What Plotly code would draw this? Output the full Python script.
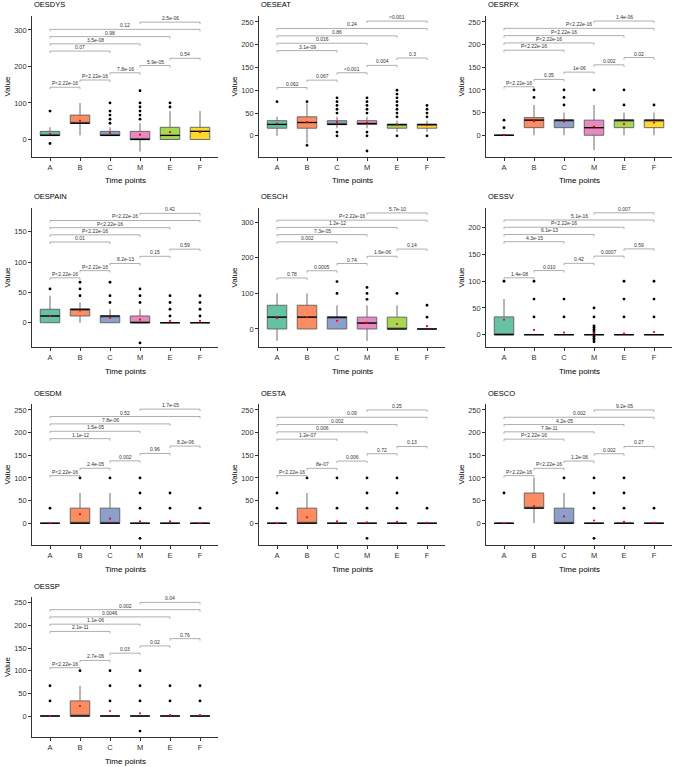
import plotly.graph_objects as go

CATS = ["A", "B", "C", "M", "E", "F"]
BOX_COLORS = ["#66C2A5", "#FC8D62", "#8DA0CB", "#E78AC3", "#A6D854", "#FFD92F"]
PAIRS = [("A", "B"), ("B", "C"), ("C", "M"), ("M", "E"), ("E", "F"),
         ("A", "C"), ("A", "M"), ("A", "E"), ("A", "F"), ("M", "F")]
PANELS = ["OESDYS", "OESEAT", "OESRFX", "OESPAIN", "OESCH",
          "OESSV", "OESDM", "OESTA", "OESCO", "OESSP"]

# ---------------- OESDYS ----------------
OESDYS_Q1 = [11.1, 44.4, 11.1, 0, 0, 0]
OESDYS_MED = [11.1, 44.4, 11.1, 0, 11.1, 22.2]
OESDYS_Q3 = [22.2, 66.7, 22.2, 22.2, 33.3, 33.3]
OESDYS_LO = [11.1, 11.1, 11.1, -33.3, 0, 0]
OESDYS_HI = [33.3, 100, 33.3, 44.4, 77.8, 77.8]
OESDYS_MEAN = [15.5, 51, 18, 13, 20, 20]
OESDYS_OUT = [[77.8, -11.1], [], [44.4, 55.6, 66.7, 77.8, 100],
              [55.6, 66.7, 77.8, 88.9, 100, 133.3], [88.9, 100], []]
OESDYS_P = ["P<2.22e-16", "P<2.22e-16", "7.8e-16", "5.9e-05", "0.54",
            "0.07", "3.5e-08", "0.98", "0.12", "2.5e-06"]

# ---------------- OESEAT ----------------
OESEAT_Q1 = [16.7, 16.7, 25, 25, 16.7, 16.7]
OESEAT_MED = [25, 29.2, 25, 27, 25, 25]
OESEAT_Q3 = [33.3, 41.7, 33.3, 33.3, 25, 25]
OESEAT_LO = [0, -16.7, 16.7, 16.7, 8.3, 8.3]
OESEAT_HI = [41.7, 70.8, 41.7, 41.7, 33.3, 33.3]
OESEAT_MEAN = [27, 30, 30, 29, 24, 23]
OESEAT_OUT = [[75], [75, -20.8], [0, 8.3, 50, 58.3, 66.7, 75, 83.3],
              [50, 58.3, 66.7, 75, 83.3, 8.3, 0, -33.3],
              [41.7, 50, 58.3, 66.7, 75, 83.3, 91.7, 100, 0],
              [41.7, 50, 58.3, 66.7, 0]]
OESEAT_P = ["0.062", "0.067", "<0.001", "0.004", "0.3",
            "3.1e-09", "0.016", "0.86", "0.24", "<0.001"]

# ---------------- OESRFX ----------------
OESRFX_Q1 = [0, 16.7, 16.7, 0, 16.7, 16.7]
OESRFX_MED = [0, 33.3, 33.3, 16.7, 33.3, 33.3]
OESRFX_Q3 = [0, 38.9, 33.3, 33.3, 33.3, 33.3]
OESRFX_LO = [0, 0, 0, -33.3, 0, 0]
OESRFX_HI = [0, 66.7, 50, 66.7, 50, 50]
OESRFX_MEAN = [1, 31, 30, 19, 25, 28]
OESRFX_OUT = [[16.7, 33.3], [83.3, 100], [66.7, 83.3, 100], [100], [66.7, 100], [66.7]]
OESRFX_P = ["P<2.22e-16", "0.35", "1e-06", "0.002", "0.02",
            "P<2.22e-16", "P<2.22e-16", "P<2.22e-16", "P<2.22e-16", "1.4e-06"]

# ---------------- OESPAIN ----------------
OESPAIN_Q1 = [0, 11.1, 0, 0, 0, 0]
OESPAIN_MED = [11.1, 22.2, 11.1, 0, 0, 0]
OESPAIN_Q3 = [22.2, 22.2, 11.1, 11.1, 0, 0]
OESPAIN_LO = [0, 0, 0, 0, 0, 0]
OESPAIN_HI = [44.4, 33.3, 22.2, 22.2, 0, 0]
OESPAIN_MEAN = [11, 20, 8, 5, 3, 3]
OESPAIN_OUT = [[55.6], [44.4, 55.6, 66.7], [33.3, 44.4, 66.7], [33.3, 44.4, 55.6, -33.3],
               [11.1, 22.2, 33.3, 44.4], [11.1, 22.2, 33.3, 44.4]]
OESPAIN_P = ["P<2.22e-16", "P<2.22e-16", "8.2e-13", "0.15", "0.59",
             "0.01", "P<2.22e-16", "P<2.22e-16", "P<2.22e-16", "0.42"]

# ---------------- OESCH ----------------
OESCH_Q1 = [0, 0, 0, 0, 0, 0]
OESCH_MED = [33.3, 33.3, 33.3, 16.7, 0, 0]
OESCH_Q3 = [66.7, 66.7, 33.3, 33.3, 33.3, 0]
OESCH_LO = [-33.3, 0, 0, -33.3, 0, 0]
OESCH_HI = [100, 100, 66.7, 66.7, 66.7, 0]
OESCH_MEAN = [30, 33, 23, 18, 14, 8]
OESCH_OUT = [[], [], [100, 133.3], [83.3, 100, 116.7], [100], [33.3, 66.7]]
OESCH_P = ["0.78", "0.0005", "0.74", "1.6e-06", "0.14",
           "0.002", "7.3e-05", "1.2e-12", "P<2.22e-16", "5.7e-10"]

# ---------------- OESSV ----------------
OESSV_Q1 = [0, 0, 0, 0, 0, 0]
OESSV_MED = [0, 0, 0, 0, 0, 0]
OESSV_Q3 = [33.3, 0, 0, 0, 0, 0]
OESSV_LO = [0, 0, 0, 0, 0, 0]
OESSV_HI = [66.7, 0, 0, 0, 0, 0]
OESSV_MEAN = [28, 9, 4, 3, 2, 5]
OESSV_OUT = [[100], [33.3, 66.7, 100], [33.3, 66.7],
             [50, 33.3, 16.7, 13.3, 10, 6.7, 3.3, -3.3, -6.7, -10, -13.3],
             [33.3, 66.7, 100], [33.3, 66.7, 100]]
OESSV_P = ["1.4e-08", "0.010", "0.42", "0.0007", "0.59",
           "4.3e-15", "6.1e-13", "P<2.22e-16", "5.1e-16", "0.007"]

# ---------------- OESDM ----------------
OESDM_Q1 = [0, 0, 0, 0, 0, 0]
OESDM_MED = [0, 0, 0, 0, 0, 0]
OESDM_Q3 = [0, 33.3, 33.3, 0, 0, 0]
OESDM_LO = [0, 0, 0, 0, 0, 0]
OESDM_HI = [0, 66.7, 66.7, 0, 0, 0]
OESDM_MEAN = [0, 20, 10, 4, 4, 0]
OESDM_OUT = [[33.3], [100], [100], [33.3, 66.7, 100, -33.3], [33.3, 66.7], [33.3]]
OESDM_P = ["P<2.22e-16", "2.4e-05", "0.002", "0.96", "8.2e-06",
           "1.1e-12", "1.5e-05", "7.8e-06", "0.52", "1.7e-05"]

# ---------------- OESTA ----------------
OESTA_Q1 = [0, 0, 0, 0, 0, 0]
OESTA_MED = [0, 0, 0, 0, 0, 0]
OESTA_Q3 = [0, 33.3, 0, 0, 0, 0]
OESTA_LO = [0, 0, 0, 0, 0, 0]
OESTA_HI = [0, 66.7, 0, 0, 0, 0]
OESTA_MEAN = [0, 13, 4, 2, 3, 1]
OESTA_OUT = [[33.3, 66.7], [100], [33.3, 100], [33.3, 66.7, 100, -33.3],
             [33.3, 66.7, 100], [33.3]]
OESTA_P = ["P<2.22e-16", "8e-07", "0.006", "0.72", "0.13",
           "1.2e-07", "0.006", "0.002", "0.09", "0.25"]

# ---------------- OESCO ----------------
OESCO_Q1 = [0, 33.3, 0, 0, 0, 0]
OESCO_MED = [0, 33.3, 0, 0, 0, 0]
OESCO_Q3 = [0, 66.7, 33.3, 0, 0, 0]
OESCO_LO = [0, 0, 0, 0, 0, 0]
OESCO_HI = [0, 100, 66.7, 0, 0, 0]
OESCO_MEAN = [0, 38, 15, 6, 3, 1]
OESCO_OUT = [[66.7], [], [100], [33.3, 66.7, 100, -33.3], [33.3, 66.7, 100], [33.3]]
OESCO_P = ["P<2.22e-16", "P<2.22e-16", "1.2e-06", "0.002", "0.27",
           "P<2.22e-16", "7.9e-11", "4.2e-05", "0.002", "9.2e-05"]

# ---------------- OESSP ----------------
OESSP_Q1 = [0, 0, 0, 0, 0, 0]
OESSP_MED = [0, 0, 0, 0, 0, 0]
OESSP_Q3 = [0, 33.3, 0, 0, 0, 0]
OESSP_LO = [0, 0, 0, 0, 0, 0]
OESSP_HI = [0, 66.7, 0, 0, 0, 0]
OESSP_MEAN = [0, 22, 11, 6, 2, 2]
OESSP_OUT = [[33.3, 66.7], [100], [33.3, 66.7, 100], [33.3, 66.7, 100, -33.3],
             [33.3, 66.7], [33.3, 66.7]]
OESSP_P = ["P<2.22e-16", "2.7e-06", "0.03", "0.02", "0.76",
           "2.1e-11", "1.1e-06", "0.0046", "0.002", "0.04"]

Y_RANGES = [[-48, 338], [-46.5, 263], [-48, 263], [-40, 189], [-50.6, 340],
            [-23, 237], [-48, 263], [-48, 263], [-48, 263], [-46.3, 262.5]]
Y_DTICK = [100, 50, 50, 50, 100, 50, 50, 50, 50, 50]
BRACKET_BASE = [143, 106, 107, 74, 143.4, 106.5, 105, 105, 105, 106.6]
BRACKET_STEP = [19.8, 16.2, 16.1, 11.8, 20.3, 13.5, 16.3, 16.1, 16.1, 16.0]

PANEL_DATA = [
    (OESDYS_Q1, OESDYS_MED, OESDYS_Q3, OESDYS_LO, OESDYS_HI, OESDYS_MEAN, OESDYS_OUT, OESDYS_P),
    (OESEAT_Q1, OESEAT_MED, OESEAT_Q3, OESEAT_LO, OESEAT_HI, OESEAT_MEAN, OESEAT_OUT, OESEAT_P),
    (OESRFX_Q1, OESRFX_MED, OESRFX_Q3, OESRFX_LO, OESRFX_HI, OESRFX_MEAN, OESRFX_OUT, OESRFX_P),
    (OESPAIN_Q1, OESPAIN_MED, OESPAIN_Q3, OESPAIN_LO, OESPAIN_HI, OESPAIN_MEAN, OESPAIN_OUT, OESPAIN_P),
    (OESCH_Q1, OESCH_MED, OESCH_Q3, OESCH_LO, OESCH_HI, OESCH_MEAN, OESCH_OUT, OESCH_P),
    (OESSV_Q1, OESSV_MED, OESSV_Q3, OESSV_LO, OESSV_HI, OESSV_MEAN, OESSV_OUT, OESSV_P),
    (OESDM_Q1, OESDM_MED, OESDM_Q3, OESDM_LO, OESDM_HI, OESDM_MEAN, OESDM_OUT, OESDM_P),
    (OESTA_Q1, OESTA_MED, OESTA_Q3, OESTA_LO, OESTA_HI, OESTA_MEAN, OESTA_OUT, OESTA_P),
    (OESCO_Q1, OESCO_MED, OESCO_Q3, OESCO_LO, OESCO_HI, OESCO_MEAN, OESCO_OUT, OESCO_P),
    (OESSP_Q1, OESSP_MED, OESSP_Q3, OESSP_LO, OESSP_HI, OESSP_MEAN, OESSP_OUT, OESSP_P),
]

# ---------------- layout geometry (pixels) ----------------
W, H = 674, 767
COL_LEFT = [32, 259, 486]
PANEL_W = 186
ROW_TOP = [16, 208, 404, 597]
ROW_BOT = [157, 347, 545, 737]
BW = 0.65
FONT = "Liberation Sans, Arial, sans-serif"
BRACKET_COLOR = "#9a9a9a"

fig = go.Figure()
annotations = []
layout_axes = {}

for i, name in enumerate(PANELS):
    q1, med, q3, lo, hi, mean, outs, plabels = PANEL_DATA[i]
    row, col = divmod(i, 3)
    n = "" if i == 0 else str(i + 1)
    xa, ya = "x" + n, "y" + n
    ymin, ymax = Y_RANGES[i]

    for j, cat in enumerate(CATS):
        fig.add_trace(go.Box(
            x=[j], q1=[q1[j]], median=[med[j]], q3=[q3[j]],
            lowerfence=[lo[j]], upperfence=[hi[j]],
            width=BW, whiskerwidth=0, boxpoints=False,
            fillcolor=BOX_COLORS[j], line=dict(color="#5e5e5e", width=0.9),
            xaxis=xa, yaxis=ya, showlegend=False, hoverinfo="skip"))
        fig.add_trace(go.Scatter(
            x=[j - BW / 2, j + BW / 2], y=[med[j], med[j]], mode="lines",
            line=dict(color="black", width=1.3),
            xaxis=xa, yaxis=ya, showlegend=False, hoverinfo="skip"))
        if outs[j]:
            fig.add_trace(go.Scatter(
                x=[j] * len(outs[j]), y=outs[j], mode="markers",
                marker=dict(color="black", size=2.8),
                xaxis=xa, yaxis=ya, showlegend=False, hoverinfo="skip"))
        fig.add_trace(go.Scatter(
            x=[j], y=[mean[j]], mode="markers",
            marker=dict(color="red", size=2.2),
            xaxis=xa, yaxis=ya, showlegend=False, hoverinfo="skip"))

    # significance brackets
    tick = 2.0 * (ymax - ymin) / (ROW_BOT[row] - ROW_TOP[row])
    bx, by = [], []
    for k, (a, b) in enumerate(PAIRS):
        x1, x2 = CATS.index(a), CATS.index(b)
        yb = BRACKET_BASE[i] + k * BRACKET_STEP[i]
        bx += [x1, x1, x2, x2, None]
        by += [yb - tick, yb, yb, yb - tick, None]
        annotations.append(dict(
            x=(x1 + x2) / 2, y=yb, xref=xa, yref=ya, text=plabels[k],
            showarrow=False, yanchor="bottom", xanchor="center", yshift=-1,
            font=dict(size=5, color="#333333", family=FONT)))
    fig.add_trace(go.Scatter(
        x=bx, y=by, mode="lines", line=dict(color=BRACKET_COLOR, width=0.8),
        xaxis=xa, yaxis=ya, showlegend=False, hoverinfo="skip"))

    x0 = COL_LEFT[col] / W
    x1d = (COL_LEFT[col] + PANEL_W) / W
    y0 = 1 - ROW_BOT[row] / H
    y1 = 1 - ROW_TOP[row] / H
    layout_axes["xaxis" + n] = dict(
        domain=[x0, x1d], anchor=ya, range=[-0.6, 5.6],
        tickvals=list(range(len(CATS))), ticktext=CATS,
        showline=True, linecolor="black", linewidth=0.8,
        ticks="outside", ticklen=3, tickwidth=0.8, tickcolor="black",
        tickfont=dict(size=7.5, color="#333333", family=FONT),
        automargin=False, showgrid=False, zeroline=False, fixedrange=True)
    layout_axes["yaxis" + n] = dict(
        domain=[y0, y1], anchor=xa, range=[ymin, ymax],
        tick0=0, dtick=Y_DTICK[i],
        showline=True, linecolor="black", linewidth=0.8,
        ticks="outside", ticklen=3, tickwidth=0.8, tickcolor="black",
        tickfont=dict(size=7.5, color="#333333", family=FONT),
        automargin=False, showgrid=False, zeroline=False, fixedrange=True)

    # panel title
    annotations.append(dict(
        x=COL_LEFT[col] / W, y=1 - (ROW_TOP[row] - 11) / H, xref="paper", yref="paper",
        text=name, showarrow=False, xanchor="left", yanchor="middle",
        font=dict(size=7.5, color="black", family=FONT)))
    # x-axis title
    annotations.append(dict(
        x=(COL_LEFT[col] + PANEL_W / 2) / W, y=1 - (ROW_BOT[row] + 24) / H,
        xref="paper", yref="paper", text="Time points", showarrow=False,
        xanchor="center", yanchor="middle",
        font=dict(size=8, color="black", family=FONT)))
    # y-axis title
    annotations.append(dict(
        x=(COL_LEFT[col] - 25) / W, y=1 - (ROW_TOP[row] + ROW_BOT[row]) / 2 / H,
        xref="paper", yref="paper", text="Value", showarrow=False, textangle=-90,
        xanchor="center", yanchor="middle",
        font=dict(size=8, color="black", family=FONT)))

fig.update_layout(
    width=W, height=H, margin=dict(l=0, r=0, t=0, b=0),
    paper_bgcolor="white", plot_bgcolor="white",
    annotations=annotations, showlegend=False, hovermode=False,
    font=dict(family=FONT), **layout_axes)

fig.write_html(
    "out.html",
    config={"displayModeBar": False, "staticPlot": True},
    post_script="document.body.style.margin='0px';document.body.style.overflow='hidden';")
